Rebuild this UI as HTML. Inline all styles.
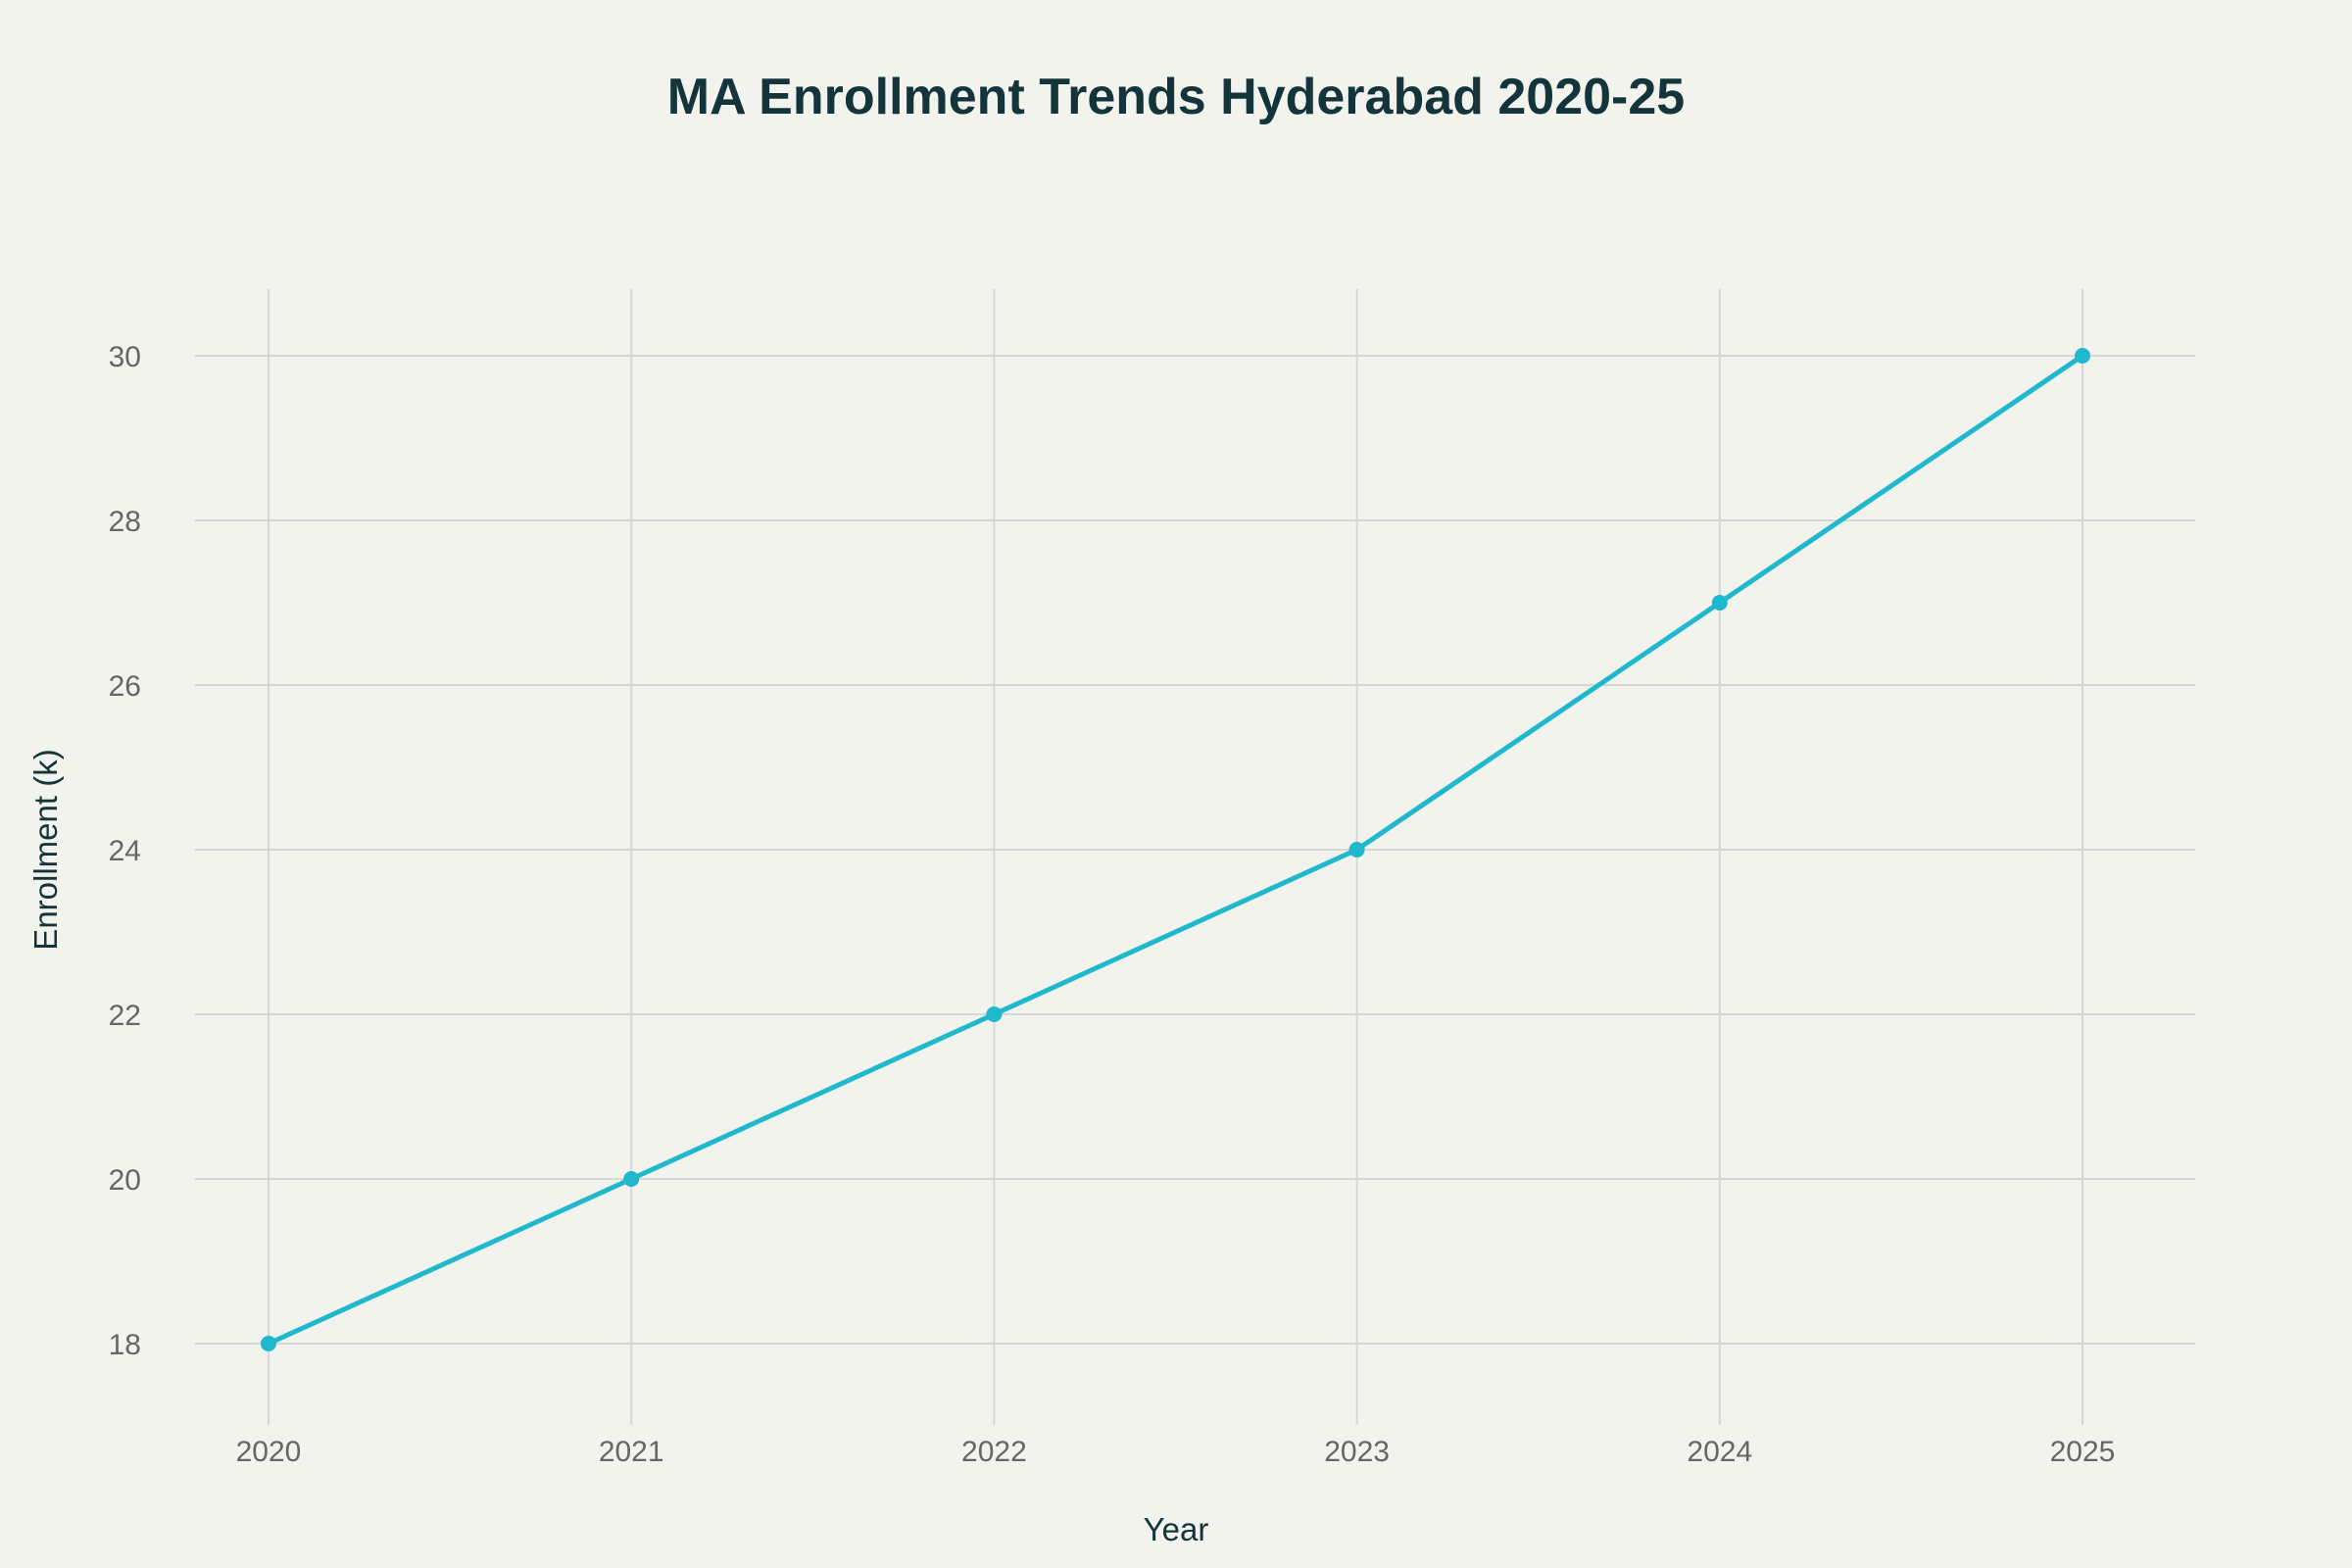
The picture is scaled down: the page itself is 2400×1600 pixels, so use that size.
<!DOCTYPE html>
<html><head><meta charset="utf-8"><style>
html,body{margin:0;padding:0;background:#F3F3EE;}
svg{display:block;font-family:"Liberation Sans",sans-serif;}
</style></head><body>
<svg width="2400" height="1600" viewBox="0 0 2400 1600" xmlns="http://www.w3.org/2000/svg">
<rect width="2400" height="1600" fill="#F3F3EE"/>
<text x="1200" y="116" text-anchor="middle" font-size="52" font-weight="bold" fill="#13343B">MA Enrollment Trends Hyderabad 2020-25</text>
<g stroke="#D6D6D3" stroke-width="2">
<line x1="274" y1="295" x2="274" y2="1454"/>
<line x1="644.2" y1="295" x2="644.2" y2="1454"/>
<line x1="1014.4" y1="295" x2="1014.4" y2="1454"/>
<line x1="1384.6" y1="295" x2="1384.6" y2="1454"/>
<line x1="1754.8" y1="295" x2="1754.8" y2="1454"/>
<line x1="2125" y1="295" x2="2125" y2="1454"/>
<line x1="199" y1="363" x2="2240" y2="363"/>
<line x1="199" y1="531" x2="2240" y2="531"/>
<line x1="199" y1="699" x2="2240" y2="699"/>
<line x1="199" y1="867" x2="2240" y2="867"/>
<line x1="199" y1="1035" x2="2240" y2="1035"/>
<line x1="199" y1="1203" x2="2240" y2="1203"/>
<line x1="199" y1="1371" x2="2240" y2="1371"/>
</g>
<g font-size="30" fill="#666" text-anchor="end">
<text x="144" y="374">30</text>
<text x="144" y="542">28</text>
<text x="144" y="710">26</text>
<text x="144" y="878">24</text>
<text x="144" y="1046">22</text>
<text x="144" y="1214">20</text>
<text x="144" y="1382">18</text>
</g>
<g font-size="30" fill="#666" text-anchor="middle">
<text x="274" y="1491">2020</text>
<text x="644.2" y="1491">2021</text>
<text x="1014.4" y="1491">2022</text>
<text x="1384.6" y="1491">2023</text>
<text x="1754.8" y="1491">2024</text>
<text x="2125" y="1491">2025</text>
</g>
<text x="1200" y="1572" text-anchor="middle" font-size="33" fill="#13343B">Year</text>
<text transform="translate(58,867) rotate(-90)" text-anchor="middle" font-size="33" fill="#13343B">Enrollment (k)</text>
<polyline points="274,1371 644.2,1203 1014.4,1035 1384.6,867 1754.8,615 2125,363" fill="none" stroke="#1FB8CD" stroke-width="5" stroke-linejoin="round"/>
<g fill="#1FB8CD">
<circle cx="274" cy="1371" r="8"/>
<circle cx="644.2" cy="1203" r="8"/>
<circle cx="1014.4" cy="1035" r="8"/>
<circle cx="1384.6" cy="867" r="8"/>
<circle cx="1754.8" cy="615" r="8"/>
<circle cx="2125" cy="363" r="8"/>
</g>
</svg>
</body></html>
